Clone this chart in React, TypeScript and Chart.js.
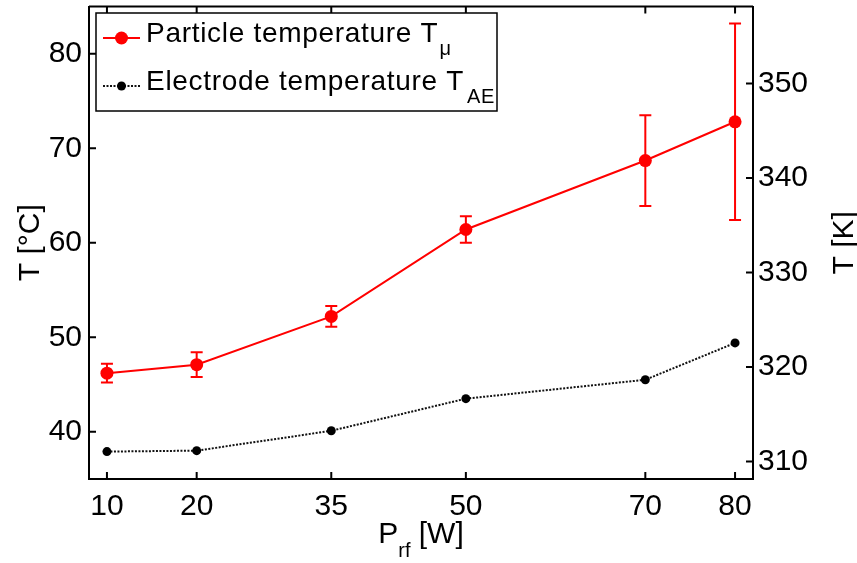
import React, { useEffect, useRef } from "react";
import { Chart, registerables } from "chart.js";
Chart.register(...registerables);

const powerW = [10, 20, 35, 50, 70, 80];
const particleTempC = [46.2, 47.1, 52.2, 61.4, 68.7, 72.8];
const particleErrC = [1.0, 1.3, 1.1, 1.4, 4.8, 10.4];
const electrodeTempC = [37.9, 38.0, 40.1, 43.5, 45.5, 49.4];
const xTicks = [10, 20, 35, 50, 70, 80];
const yTicksC = [40, 50, 60, 70, 80];
const yTicksK = [310, 320, 330, 340, 350];
const KELVIN = 273.15;
const FONT = '"Liberation Sans", Arial, Helvetica, sans-serif';
const RED = "#ff0000";
const DARK = "#111111";

const errorBarPlugin = {
  id: "errorBars",
  beforeDatasetsDraw(chart: any) {
    const { ctx, scales } = chart;
    ctx.save();
    ctx.strokeStyle = RED;
    ctx.lineWidth = 2;
    powerW.forEach((x, i) => {
      const px = scales.x.getPixelForValue(x);
      const top = scales.y.getPixelForValue(particleTempC[i] + particleErrC[i]);
      const bot = scales.y.getPixelForValue(particleTempC[i] - particleErrC[i]);
      ctx.beginPath();
      ctx.moveTo(px, top);
      ctx.lineTo(px, bot);
      ctx.moveTo(px - 6, top);
      ctx.lineTo(px + 6, top);
      ctx.moveTo(px - 6, bot);
      ctx.lineTo(px + 6, bot);
      ctx.stroke();
    });
    ctx.restore();
  },
};

const framePlugin = {
  id: "frame",
  afterDraw(chart: any) {
    const { ctx, chartArea, scales } = chart;
    const { left, right, top, bottom } = chartArea;
    const tl = 7;
    ctx.save();
    ctx.strokeStyle = "#000";
    ctx.lineWidth = 2;
    ctx.beginPath();
    ctx.moveTo(left, top);
    ctx.lineTo(right, top);
    xTicks.forEach((v) => {
      const px = scales.x.getPixelForValue(v);
      ctx.moveTo(px, bottom);
      ctx.lineTo(px, bottom - tl);
      ctx.moveTo(px, top);
      ctx.lineTo(px, top + tl);
    });
    yTicksC.forEach((v) => {
      const py = scales.y.getPixelForValue(v);
      ctx.moveTo(left, py);
      ctx.lineTo(left + tl, py);
    });
    yTicksK.forEach((v) => {
      const py = scales.y1.getPixelForValue(v);
      ctx.moveTo(right, py);
      ctx.lineTo(right - tl, py);
    });
    ctx.stroke();

    // axis titles
    ctx.fillStyle = "#000";
    ctx.textBaseline = "alphabetic";
    const midY = (top + bottom) / 2;
    ctx.font = `30px ${FONT}`;
    ctx.textAlign = "center";
    ctx.save();
    ctx.translate(39, midY);
    ctx.rotate(-Math.PI / 2);
    ctx.fillText("T [°C]", 0, 0);
    ctx.restore();
    ctx.save();
    ctx.translate(853, midY);
    ctx.rotate(-Math.PI / 2);
    ctx.fillText("T [K]", 0, 0);
    ctx.restore();

    // x title with subscript
    ctx.textAlign = "left";
    const big = `30px ${FONT}`;
    const small = `20px ${FONT}`;
    ctx.font = big;
    const wP = ctx.measureText("P").width;
    const wW = ctx.measureText(" [W]").width;
    ctx.font = small;
    const wrf = ctx.measureText("rf").width;
    const total = wP + wrf + wW;
    let x0 = (left + right) / 2 - total / 2;
    const base = 543;
    ctx.font = big;
    ctx.fillText("P", x0, base);
    x0 += wP;
    ctx.font = small;
    ctx.fillText("rf", x0, base + 14);
    x0 += wrf;
    ctx.font = big;
    ctx.fillText(" [W]", x0, base);

    // legend
    const bx = 96, by = 13, bw = 401, bh = 98;
    ctx.fillStyle = "#fff";
    ctx.fillRect(bx, by, bw, bh);
    ctx.lineWidth = 1.5;
    ctx.strokeStyle = "#000";
    ctx.strokeRect(bx, by, bw, bh);

    // row 1
    ctx.strokeStyle = RED;
    ctx.lineWidth = 2;
    ctx.beginPath();
    ctx.moveTo(103, 38);
    ctx.lineTo(140, 38);
    ctx.stroke();
    ctx.fillStyle = RED;
    ctx.beginPath();
    ctx.arc(121.5, 38, 6.5, 0, Math.PI * 2);
    ctx.fill();

    // row 2
    ctx.strokeStyle = DARK;
    ctx.setLineDash([2, 1.5]);
    ctx.beginPath();
    ctx.moveTo(103, 86);
    ctx.lineTo(140, 86);
    ctx.stroke();
    ctx.setLineDash([]);
    ctx.fillStyle = "#000";
    ctx.beginPath();
    ctx.arc(121.5, 86, 4.5, 0, Math.PI * 2);
    ctx.fill();

    ctx.fillStyle = "#000";
    const lf = `28px ${FONT}`;
    const ls = `20px ${FONT}`;
    (ctx as any).letterSpacing = "0.7px";
    ctx.font = lf;
    const t1 = "Particle temperature T";
    ctx.fillText(t1, 146, 42);
    const w1 = ctx.measureText(t1).width;
    ctx.font = ls;
    ctx.fillText("μ", 146 + w1 + 1, 55);
    ctx.font = lf;
    const t2 = "Electrode temperature T";
    ctx.fillText(t2, 146, 90);
    const w2 = ctx.measureText(t2).width;
    ctx.font = ls;
    ctx.fillText("AE", 146 + w2 + 3, 103);
    (ctx as any).letterSpacing = "0px";
    ctx.restore();
  },
};

export default function App() {
  const ref = useRef<HTMLCanvasElement>(null);
  useEffect(() => {
    if (!ref.current) return;
    const tickFont = { family: FONT, size: 30 };
    const chart = new Chart(ref.current, {
      type: "line",
      data: {
        datasets: [
          {
            label: "Particle temperature",
            data: powerW.map((x, i) => ({ x, y: particleTempC[i] })),
            borderColor: RED,
            backgroundColor: RED,
            borderWidth: 2,
            pointRadius: 6.5,
            pointBorderWidth: 0,
            pointBackgroundColor: RED,
            yAxisID: "y",
          },
          {
            label: "Electrode temperature",
            data: powerW.map((x, i) => ({ x, y: electrodeTempC[i] })),
            borderColor: DARK,
            backgroundColor: "#000",
            borderWidth: 2,
            borderDash: [2, 1.5],
            pointRadius: 4.5,
            pointBorderWidth: 0,
            pointBackgroundColor: "#000",
            yAxisID: "y",
          },
        ],
      },
      options: {
        animation: false,
        responsive: false,
        devicePixelRatio: 1,
        layout: { padding: { top: 6, left: 0, right: 0, bottom: 0 } },
        plugins: { legend: { display: false }, tooltip: { enabled: false } },
        scales: {
          x: {
            type: "linear",
            position: "bottom",
            min: 8,
            max: 82,
            afterBuildTicks: (s: any) => {
              s.ticks = xTicks.map((v) => ({ value: v }));
            },
            afterFit: (s: any) => {
              s.height = 84;
              s.paddingLeft = 0;
              s.paddingRight = 0;
            },
            grid: { display: false, drawTicks: false },
            border: { display: true, width: 2, color: "#000" },
            ticks: {
              font: tickFont,
              color: "#000",
              padding: 10,
              autoSkip: false,
              maxRotation: 0,
            },
          },
          y: {
            type: "linear",
            position: "left",
            min: 35,
            max: 85,
            afterBuildTicks: (s: any) => {
              s.ticks = yTicksC.map((v) => ({ value: v }));
            },
            afterFit: (s: any) => {
              s.width = 89;
              s.paddingTop = 0;
              s.paddingBottom = 0;
            },
            grid: { display: false, drawTicks: false },
            border: { display: true, width: 2, color: "#000" },
            ticks: {
              font: tickFont,
              color: "#000",
              padding: 7,
              autoSkip: false,
            },
          },
          y1: {
            type: "linear",
            position: "right",
            min: 35 + KELVIN,
            max: 85 + KELVIN,
            afterBuildTicks: (s: any) => {
              s.ticks = yTicksK.map((v) => ({ value: v }));
            },
            afterFit: (s: any) => {
              s.width = 104;
              s.paddingTop = 0;
              s.paddingBottom = 0;
            },
            grid: { display: false, drawTicks: false },
            border: { display: true, width: 2, color: "#000" },
            ticks: {
              font: tickFont,
              color: "#000",
              padding: 5,
              autoSkip: false,
            },
          },
        },
      } as any,
      plugins: [errorBarPlugin, framePlugin],
    });
    return () => chart.destroy();
  }, []);
  return (
    <div style={{ position: "absolute", left: 0, top: 0, width: 857, height: 563, background: "#fff" }}>
      <canvas ref={ref} width={857} height={563} style={{ width: 857, height: 563 }} />
    </div>
  );
}
